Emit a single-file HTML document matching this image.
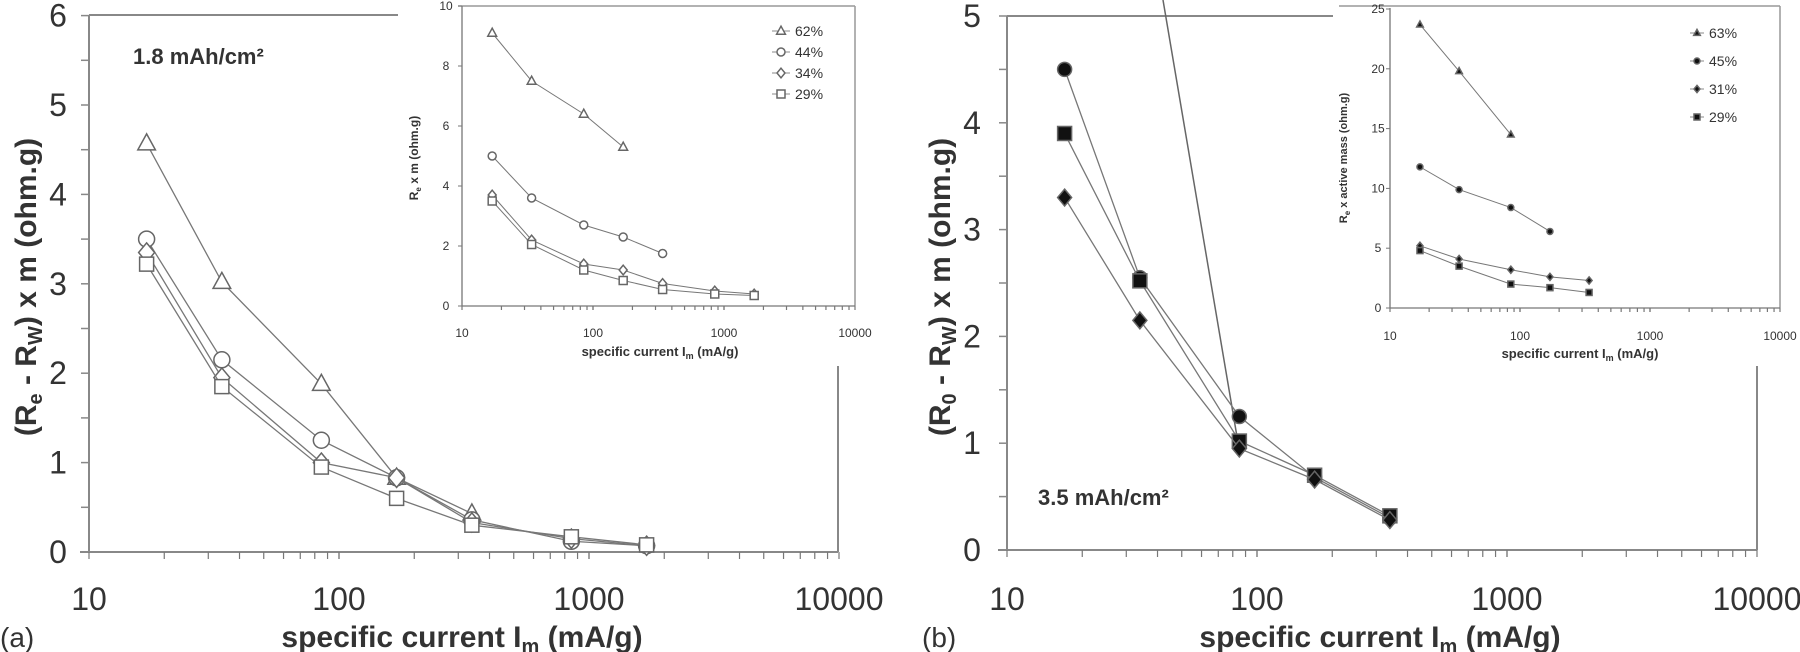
<!DOCTYPE html>
<html><head><meta charset="utf-8"><style>
html,body{margin:0;padding:0;background:#fff;}
svg{display:block;font-family:"Liberation Sans",Arial,sans-serif;}
</style></head><body>
<svg id="s" width="1800" height="652" xmlns="http://www.w3.org/2000/svg"></svg>
<script>
const S=document.getElementById('s');let h='';
const L=Math.log10;
function ax(o){ // o: x0,dec,y0,ppu
  return {X:v=>o.x0+o.dec*L(v/10),Y:v=>o.y0-o.ppu*v};
}
function line(x1,y1,x2,y2,c,w){h+=`<line x1="${x1}" y1="${y1}" x2="${x2}" y2="${y2}" stroke="${c||'#666'}" stroke-width="${w||1.5}"/>`;}
function txt(x,y,t,fs,a,extra){h+=`<text x="${x}" y="${y}" font-size="${fs}" text-anchor="${a||'middle'}" fill="#333" ${extra||''}>${t}</text>`;}
function marker(type,x,y,r,fill){
  const st=`stroke="#666" stroke-width="1.5" fill="${fill?'#111':'#fff'}"`;
  if(type=='t')h+=`<polygon points="${x},${y-r*1.2} ${x-r*1.1},${y+r*0.8} ${x+r*1.1},${y+r*0.8}" ${st}/>`;
  else if(type=='c')h+=`<circle cx="${x}" cy="${y}" r="${r}" ${st}/>`;
  else if(type=='s')h+=`<rect x="${x-r}" y="${y-r}" width="${2*r}" height="${2*r}" ${st}/>`;
  else if(type=='d')h+=`<polygon points="${x},${y-r*1.2} ${x+r},${y} ${x},${y+r*1.2} ${x-r},${y}" ${st}/>`;
}
function series(A,xs,ys,type,r,fill,lw){
  const p=ys.map((v,i)=>[A.X(xs[i]),A.Y(v)]);
  h+=`<polyline fill="none" stroke="#777" stroke-width="${lw||1.3}" points="${p.map(q=>q.join(',')).join(' ')}"/>`;
  p.forEach(q=>marker(type,q[0],q[1],r,fill));
}
function logticks(A,yb,len,from,to){
  for(let d=from;d<to;d*=10)for(let k=1;k<=10;k++){const x=A.X(d*k);line(x,yb,x,yb+len,'#777',1.2);}
}
const XS=[17,34,85,170,340,850,1700];
// ===== Panel a main =====
let A=ax({x0:89,dec:250,y0:552,ppu:89.4});
line(89,15,398,15,'#888',2);
line(89,15,89,552,'#888',2);
line(80,552,838,552,'#888',2);
line(838,366,838,552,'#888',2);
for(let v=0;v<=6;v+=0.5){line(81,A.Y(v),89,A.Y(v),'#888',1.5);}
for(let v=0;v<=6;v++)txt(58,A.Y(v)+11,v,32);
logticks(A,552,7,10,10000);
[[10,'10'],[100,'100'],[1000,'1000'],[10000,'10000']].forEach(t=>txt(A.X(t[0]),610,t[1],32));
txt(462,647,'specific current I<tspan font-size="20" dy="6">m</tspan><tspan dy="-6"> (mA/g)</tspan>',30,'middle','font-weight="bold"');
txt(0,647,'(a)',28,'start');
txt(26,287,'(R<tspan font-size="20" dy="6">e</tspan><tspan dy="-6"> - R</tspan><tspan font-size="20" dy="6">W</tspan><tspan dy="-6">) x m (ohm.g)</tspan>',30,'middle','font-weight="bold" transform="rotate(-90 26 287)" dy="10"');
txt(133,64,'1.8 mAh/cm²',22,'start','font-weight="bold"');
series(A,XS.slice(0,5),[4.57,3.02,1.88,0.83,0.43],'t',8);
series(A,XS,[3.5,2.15,1.25,0.83,0.36,0.12,0.07],'c',8);
series(A,XS,[3.35,1.95,1.0,0.83,0.33,0.15,0.07],'d',8);
series(A,XS,[3.22,1.85,0.95,0.6,0.3,0.17,0.08],'s',7);
// ===== inset a =====
h+=`<rect x="400" y="2" width="455" height="364" fill="#fff"/>`;
line(458,6,855,6,'#999',1.5);line(855,6,855,306,'#999',1.5);
let B=ax({x0:462,dec:131,y0:306,ppu:30});
line(462,6,462,306,'#777',1.3);line(462,306,855,306,'#777',1.3);
for(let v=0;v<=10;v+=2){line(458,B.Y(v),462,B.Y(v),'#777',1);txt(446,B.Y(v)+4,v,12);}
logticks(B,306,4,10,10000);
[[10,'10'],[100,'100'],[1000,'1000'],[10000,'10000']].forEach(t=>txt(B.X(t[0]),337,t[1],12));
txt(660,356,'specific current I<tspan font-size="9" dy="3">m</tspan><tspan dy="-3"> (mA/g)</tspan>',13,'middle','font-weight="bold"');
txt(418,158,'R<tspan font-size="8" dy="3">e</tspan><tspan dy="-3"> x m (ohm.g)</tspan>',12,'middle','font-weight="bold" transform="rotate(-90 418 158)"');
series(B,XS.slice(0,4),[9.1,7.5,6.4,5.3],'t',4,0,1);
series(B,XS.slice(0,5),[5.0,3.6,2.7,2.3,1.75],'c',4,0,1);
series(B,XS,[3.7,2.2,1.4,1.2,0.75,0.5,0.4],'d',4,0,1);
series(B,XS,[3.5,2.05,1.2,0.85,0.55,0.4,0.35],'s',4,0,1);
['62%','44%','34%','29%'].forEach((t,i)=>{const y=31+i*21;line(772,y,790,y,'#888',1);marker('tcds'[i],781,y,4);txt(795,y+5,t,14,'start');});
// ===== Panel b main =====
let C=ax({x0:1007,dec:250,y0:550,ppu:106.8});
line(1007,16,1333,16,'#888',2);
line(1007,16,1007,550,'#888',2);
line(998,550,1757,550,'#888',2);
line(1757,366,1757,550,'#888',2);
for(let v=0;v<=5;v+=0.5){line(999,C.Y(v),1007,C.Y(v),'#888',1.5);}
for(let v=0;v<=5;v++)txt(972,C.Y(v)+11,v,32);
logticks(C,550,7,10,10000);
[[10,'10'],[100,'100'],[1000,'1000'],[10000,'10000']].forEach(t=>txt(C.X(t[0]),610,t[1],32));
txt(1380,647,'specific current I<tspan font-size="20" dy="6">m</tspan><tspan dy="-6"> (mA/g)</tspan>',30,'middle','font-weight="bold"');
txt(922,647,'(b)',28,'start');
txt(940,287,'(R<tspan font-size="20" dy="6">0</tspan><tspan dy="-6"> - R</tspan><tspan font-size="20" dy="6">W</tspan><tspan dy="-6">) x m (ohm.g)</tspan>',30,'middle','font-weight="bold" transform="rotate(-90 940 287)" dy="10"');
txt(1038,505,'3.5 mAh/cm²',22,'start','font-weight="bold"');
line(1163,0,1239,C.Y(0.95),'#666',1.5);
const XB=[17,34,85,170,340];
series(C,XB,[4.5,2.55,1.25,0.68,0.3],'c',7,1);
series(C,XB,[3.9,2.52,1.02,0.7,0.32],'s',7,1);
series(C,XB,[3.3,2.15,0.95,0.66,0.28],'d',7,1);
// ===== inset b =====
h+=`<rect x="1336" y="2" width="450" height="364" fill="#fff"/>`;
line(1339,6,1780,6,'#999',1.5);line(1780,6,1780,308,'#999',1.5);
let D=ax({x0:1390,dec:130,y0:308,ppu:11.96});
line(1390,8,1390,308,'#777',1.3);line(1390,308,1780,308,'#777',1.3);
for(let v=0;v<=25;v+=5){line(1386,D.Y(v),1390,D.Y(v),'#777',1);txt(1378,D.Y(v)+4,v,12);}
logticks(D,308,4,10,10000);
[[10,'10'],[100,'100'],[1000,'1000'],[10000,'10000']].forEach(t=>txt(D.X(t[0]),340,t[1],12));
txt(1580,358,'specific current I<tspan font-size="9" dy="3">m</tspan><tspan dy="-3"> (mA/g)</tspan>',13,'middle','font-weight="bold"');
txt(1347,158,'R<tspan font-size="8" dy="3">e</tspan><tspan dy="-3"> x active mass (ohm.g)</tspan>',11,'middle','font-weight="bold" transform="rotate(-90 1347 158)"');
series(D,XB.slice(0,3),[23.7,19.8,14.5],'t',3,1,1);
series(D,XB.slice(0,4),[11.8,9.9,8.4,6.4],'c',3,1,1);
series(D,XB,[5.2,4.1,3.2,2.6,2.3],'d',3,1,1);
series(D,XB,[4.8,3.5,2.0,1.7,1.3],'s',3,1,1);
['63%','45%','31%','29%'].forEach((t,i)=>{const y=33+i*28;line(1690,y,1704,y,'#888',1);marker('tcds'[i],1697,y,3,1);txt(1709,y+5,t,14,'start');});
S.innerHTML=h;
</script>
</body></html>
